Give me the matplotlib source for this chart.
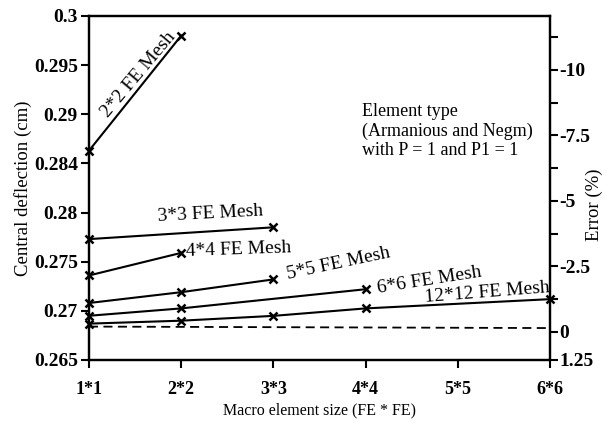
import matplotlib
matplotlib.use('Agg')
import matplotlib.pyplot as plt

plt.rcParams['font.family'] = ['Liberation Serif', 'DejaVu Serif']

# macro element sizes on the x axis
sizes = ['1*1', '2*2', '3*3', '4*4', '5*5', '6*6']

# central deflection (cm) for each FE mesh
mesh2_x = [0, 1]
mesh2_y = [0.2863, 0.2980]
mesh3_x = [0, 2]
mesh3_y = [0.2773, 0.2785]
mesh4_x = [0, 1]
mesh4_y = [0.2736, 0.2759]
mesh5_x = [0, 1, 2]
mesh5_y = [0.2708, 0.2719, 0.2732]
mesh6_x = [0, 1, 3]
mesh6_y = [0.2695, 0.27025, 0.2722]
mesh12_x = [0, 1, 2, 3, 5]
mesh12_y = [0.2687, 0.2690, 0.26949, 0.27025, 0.27119]
exact_x = [0, 5]
exact_y = [0.2684, 0.26825]

left_ticks = [0.265, 0.27, 0.275, 0.28, 0.285, 0.29, 0.295, 0.3]
left_labels = ['0.265', '0.27', '0.275', '0.28', '0.284', '0.29', '0.295', '0.3']
right_ticks = [-10, -7.5, -5, -2.5, 0, 1.07]
right_labels = ['-10', '-7.5', '-5', '-2.5', '0', '1.25']
right_minor = [-11.25, -8.75, -6.25, -3.75, -1.25]

fig = plt.figure(figsize=(6.07, 4.21), dpi=100)
ax = fig.add_axes([89/607, 61/421, 461/607, 344/421])

for xs, ys in [(mesh2_x, mesh2_y), (mesh3_x, mesh3_y), (mesh4_x, mesh4_y),
               (mesh5_x, mesh5_y), (mesh6_x, mesh6_y), (mesh12_x, mesh12_y)]:
    ax.plot(xs, ys, color='black', lw=1.5, marker='x', ms=5.5, mew=1.8, clip_on=False, zorder=3)
ax.plot(exact_x, exact_y, color='black', lw=1.3, dashes=(5, 3), clip_on=False)

ax.set_xlim(0, 5)
ax.set_ylim(0.265, 0.3)
ax.set_xticks(range(len(sizes)))
ax.set_xticklabels(sizes, fontweight='bold')
ax.set_yticks(left_ticks)
ax.set_yticklabels(left_labels, fontweight='bold')
ax.tick_params(axis='x', direction='out', length=6, width=1.5, pad=9, labelsize=13)
ax.tick_params(axis='y', direction='out', length=6, width=1.5, pad=2, labelsize=14)
for s in ax.spines.values():
    s.set_linewidth(1.6)

ax.set_xlabel('Macro element size (FE * FE)', fontsize=11.5, labelpad=3)
ax.set_ylabel('Central deflection (cm)', fontsize=13.5)
ax.yaxis.set_label_coords(-0.124, 0.5)

ax2 = ax.twinx()
ax2.set_ylim(1.07, -12.06)
ax2.set_yticks(right_ticks)
ax2.set_yticklabels(right_labels, fontweight='bold')
ax2.set_yticks(right_minor, minor=True)
ax2.tick_params(axis='y', which='both', direction='out', length=6, width=1.5, pad=1, labelsize=14)
ax2.set_ylabel('Error (%)', fontsize=13.5)
ax2.yaxis.set_label_coords(1.078, 0.45)
for s in ax2.spines.values():
    s.set_linewidth(1.6)

# mesh labels along the lines
kw = dict(fontsize=14, rotation_mode='anchor', ha='left', va='baseline')
ax.text(0.206, 0.28965, '2*2 FE Mesh', rotation=50, **kw)
ax.text(0.75, 0.2791, '3*3 FE Mesh', rotation=3, **kw)
ax.text(1.05, 0.27555, '4*4 FE Mesh', rotation=2, **kw)
ax.text(2.16, 0.27322, '5*5 FE Mesh', rotation=12, **kw)
ax.text(3.13, 0.2718, '6*6 FE Mesh', rotation=9, **kw)
ax.text(3.64, 0.27088, '12*12 FE Mesh', rotation=4.5, **kw)

ax.text(0.592, 0.666, 'Element type\n(Armanious and Negm)\nwith P = 1 and P1 = 1',
        transform=ax.transAxes, fontsize=13, ha='left', va='center', linespacing=1.15)

fig.savefig('out.png', dpi=100)
